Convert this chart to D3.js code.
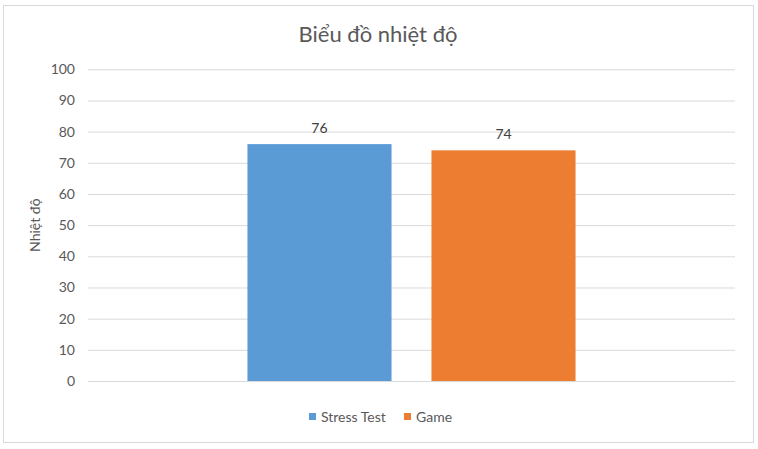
<!DOCTYPE html>
<html>
<head>
<meta charset="utf-8">
<script src="https://cdn.jsdelivr.net/npm/d3@7"></script>
<style>
  body { margin: 0; background: #fff; }
  svg { font-family: Lato, "Liberation Sans", sans-serif; }
</style>
</head>
<body>
<svg width="758" height="449"></svg>
<script>
// ---- datos ----
const categories = [""];
const seriesNames = ["Stress Test", "Game"];
const seriesValues = [76, 74];
const seriesColors = ["#5B9BD5", "#ED7D31"];
const yTicks = [0, 10, 20, 30, 40, 50, 60, 70, 80, 90, 100];

const svg = d3.select("svg");

// marco del grafico
svg.append("rect")
    .attr("x", 3.5).attr("y", 5.5)
    .attr("width", 750).attr("height", 437)
    .attr("fill", "#fff")
    .attr("stroke", "#D9D9D9");

const plotL = 88, plotR = 735, plotT = 69.3, plotB = 381;

const y = d3.scaleLinear().domain([0, 100]).range([plotB, plotT]);

const x0 = d3.scaleBand().domain(categories).range([plotL, plotR])
    .paddingInner(0).paddingOuter(0.486);
const x1 = d3.scaleBand().domain(seriesNames).range([0, x0.bandwidth()])
    .paddingInner(0.217).paddingOuter(0);

// grid + etiquetas del eje Y
const yAxis = d3.axisLeft(y).tickValues(yTicks).tickSize(-(plotR - plotL)).tickPadding(13);
const gy = svg.append("g").attr("transform", `translate(${plotL},0)`).call(yAxis);
gy.select(".domain").remove();
gy.selectAll(".tick line").attr("stroke", "#D9D9D9");
gy.selectAll(".tick text")
    .attr("fill", "#595959")
    .style("font-size", "14px")
    .style("font-family", "Lato, 'Liberation Sans', sans-serif");

// barras
const g = svg.append("g");
categories.forEach(c => {
    seriesNames.forEach((s, i) => {
        const v = seriesValues[i];
        g.append("rect")
            .attr("x", x0(c) + x1(s))
            .attr("y", y(v))
            .attr("width", x1.bandwidth())
            .attr("height", y(0) - y(v))
            .attr("fill", seriesColors[i]);
        g.append("text")
            .attr("x", x0(c) + x1(s) + x1.bandwidth() / 2)
            .attr("y", y(v) - 11)
            .attr("text-anchor", "middle")
            .attr("fill", "#404040")
            .style("font-size", "14px")
            .text(v);
    });
});

// titulo
svg.append("text")
    .attr("x", 378).attr("y", 42)
    .attr("text-anchor", "middle")
    .attr("fill", "#595959")
    .style("font-size", "22px")
    .text("Biểu đồ nhiệt độ");

// titulo eje Y
svg.append("text")
    .attr("transform", `translate(40,${(plotT + plotB) / 2}) rotate(-90)`)
    .attr("text-anchor", "middle")
    .attr("fill", "#595959")
    .style("font-size", "14px")
    .text("Nhiệt độ");

// leyenda
const legendX = [309, 404];
const legend = svg.append("g");
seriesNames.forEach((s, i) => {
    legend.append("rect")
        .attr("x", legendX[i]).attr("y", 413)
        .attr("width", 7).attr("height", 7)
        .attr("fill", seriesColors[i]);
    legend.append("text")
        .attr("x", legendX[i] + 12).attr("y", 422)
        .attr("fill", "#595959")
        .style("font-size", "14px")
        .text(s);
});
</script>
</body>
</html>
